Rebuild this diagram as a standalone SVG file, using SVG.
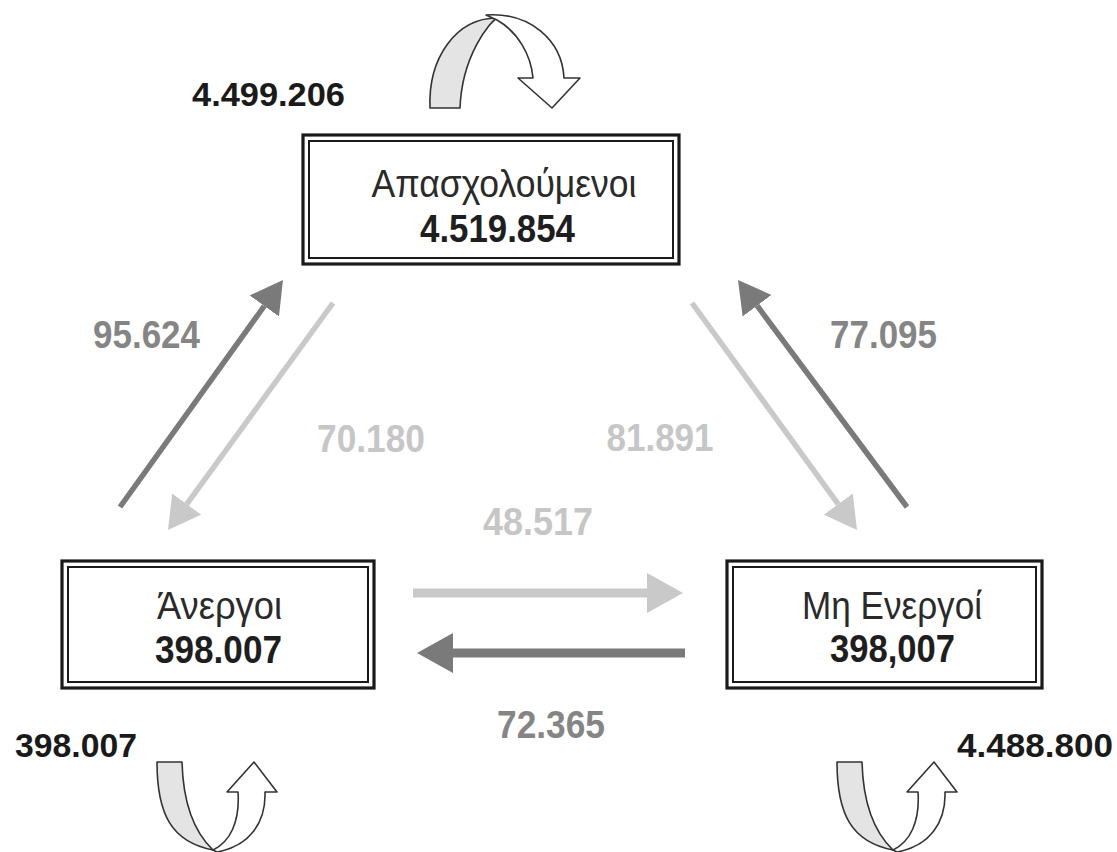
<svg xmlns="http://www.w3.org/2000/svg" width="1117" height="852" viewBox="0 0 1117 852">
<style>
.box-outer{fill:#fff;stroke:#1a1a1a;stroke-width:3.2}
.box-inner{fill:none;stroke:#1a1a1a;stroke-width:2}
.lbl{font-family:"Liberation Sans",Arial,sans-serif;text-anchor:middle;fill:#2a2a2a;font-size:39px}
.num{font-family:"Liberation Sans",Arial,sans-serif;text-anchor:middle;font-weight:bold;fill:#1e1e1e;font-size:38px}
.ext{font-family:"Liberation Sans",Arial,sans-serif;text-anchor:middle;font-weight:bold;fill:#1a1a1a;font-size:34px}
.fl-dark{font-family:"Liberation Sans",Arial,sans-serif;text-anchor:middle;font-weight:bold;fill:#858585;font-size:39px}
.fl-light{font-family:"Liberation Sans",Arial,sans-serif;text-anchor:middle;font-weight:bold;fill:#c6c6c6;font-size:39px}
.dk{stroke:#7a7a7a;fill:none}
.lt{stroke:#c9c9c9;fill:none}
.diag{stroke-width:5.5}
.hor{stroke-width:9}
.loop-back{fill:#e4e4e4;stroke:#333;stroke-width:1.6;stroke-linejoin:round}
.loop-front{fill:#fff;stroke:#333;stroke-width:1.6;stroke-linejoin:round}
</style>
<defs>
<marker id="hdD" markerUnits="userSpaceOnUse" viewBox="0 0 32 36" refX="0" refY="18" markerWidth="32" markerHeight="36" orient="auto"><path d="M0,0 L32,18 L0,36 Z" fill="#7a7a7a"/></marker>
<marker id="hlD" markerUnits="userSpaceOnUse" viewBox="0 0 32 36" refX="0" refY="18" markerWidth="32" markerHeight="36" orient="auto"><path d="M0,0 L32,18 L0,36 Z" fill="#c9c9c9"/></marker>
<marker id="hdH" markerUnits="userSpaceOnUse" viewBox="0 0 36 40" refX="0" refY="20" markerWidth="36" markerHeight="40" orient="auto"><path d="M0,0 L36,20 L0,40 Z" fill="#7a7a7a"/></marker>
<marker id="hlH" markerUnits="userSpaceOnUse" viewBox="0 0 36 40" refX="0" refY="20" markerWidth="36" markerHeight="40" orient="auto"><path d="M0,0 L36,20 L0,40 Z" fill="#c9c9c9"/></marker>
<g id="loopshape">
<path class="loop-back" d="M157,762 L182,762 C183,800 192,830 213,850 C172,842 157,815 157,762 Z"/>
<path class="loop-front" d="M213,850 C230,842 240,822 238,792 L227,792 L254,762 L277,792 L265,792 C266,822 250,846 217,852 Z"/>
</g>
</defs>
<rect width="1117" height="852" fill="#fff"/>

<g id="connectors">
<line class="dk diag" x1="120" y1="507" x2="264.3" y2="306" marker-end="url(#hdD)"/>
<line class="lt diag" x1="333" y1="303" x2="186.8" y2="504.1" marker-end="url(#hlD)"/>
<line class="lt diag" x1="692" y1="303" x2="838.2" y2="504.1" marker-end="url(#hlD)"/>
<line class="dk diag" x1="907" y1="507" x2="757.1" y2="305.7" marker-end="url(#hdD)"/>
<line class="lt hor" x1="413" y1="593" x2="647" y2="593" marker-end="url(#hlH)"/>
<line class="dk hor" x1="685" y1="653" x2="453" y2="653" marker-end="url(#hdH)"/>
<text class="fl-dark" x="146.5" y="348" textLength="107" lengthAdjust="spacingAndGlyphs">95.624</text>
<text class="fl-dark" x="883.5" y="348" textLength="107" lengthAdjust="spacingAndGlyphs">77.095</text>
<text class="fl-light" x="371" y="452" textLength="108" lengthAdjust="spacingAndGlyphs">70.180</text>
<text class="fl-light" x="660" y="451" textLength="107" lengthAdjust="spacingAndGlyphs">81.891</text>
<text class="fl-light" x="538" y="535" textLength="110" lengthAdjust="spacingAndGlyphs">48.517</text>
<text class="fl-dark" x="551" y="738" textLength="108" lengthAdjust="spacingAndGlyphs">72.365</text>
</g>

<g id="loop-top">
<path class="loop-back" d="M430,108 C428,58 456,18 497,18 C490,22 462,55 460,108 Z"/>
<path class="loop-front" d="M486,15 C530,12 562,40 564,78 L580,78 L552,108 L518,78 L533,78 C531,55 518,32 497,20 Z"/>
<text class="ext" x="268.5" y="106" textLength="153" lengthAdjust="spacingAndGlyphs">4.499.206</text>
</g>
<g id="loop-left">
<use href="#loopshape"/>
<text class="ext" x="76" y="757" textLength="122" lengthAdjust="spacingAndGlyphs">398.007</text>
</g>
<g id="loop-right">
<use href="#loopshape" transform="translate(680,0)"/>
<text class="ext" x="1035" y="757" textLength="156" lengthAdjust="spacingAndGlyphs">4.488.800</text>
</g>

<g id="node-employed">
<rect class="box-outer" x="303" y="135" width="376" height="129"/>
<rect class="box-inner" x="309" y="141" width="364" height="117"/>
<text class="lbl" x="504" y="197" textLength="265" lengthAdjust="spacingAndGlyphs">Απασχολούμενοι</text>
<text class="num" x="497.5" y="242" textLength="155" lengthAdjust="spacingAndGlyphs">4.519.854</text>
</g>
<g id="node-unemployed">
<rect class="box-outer" x="62" y="561" width="312" height="127"/>
<rect class="box-inner" x="68" y="567" width="300" height="115"/>
<text class="lbl" x="219.5" y="619" textLength="125" lengthAdjust="spacingAndGlyphs">Άνεργοι</text>
<text class="num" x="218.5" y="663" textLength="127" lengthAdjust="spacingAndGlyphs">398.007</text>
</g>
<g id="node-inactive">
<rect class="box-outer" x="727" y="561" width="315" height="127"/>
<rect class="box-inner" x="733" y="567" width="303" height="115"/>
<text class="lbl" x="892" y="619" textLength="180" lengthAdjust="spacingAndGlyphs">Μη Ενεργοί</text>
<text class="num" x="892.5" y="662" textLength="125" lengthAdjust="spacingAndGlyphs">398,007</text>
</g>
</svg>
